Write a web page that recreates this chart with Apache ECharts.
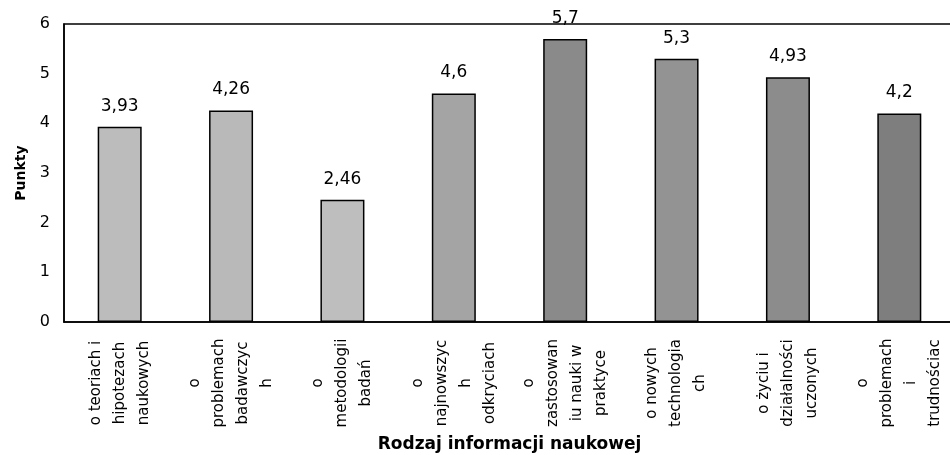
<!DOCTYPE html>
<html>
<head>
<meta charset="utf-8">
<script src="https://cdn.jsdelivr.net/npm/echarts@6/dist/echarts.min.js"></script>
<style>
  html, body { margin: 0; padding: 0; background: #ffffff; }
  #chart { width: 950px; height: 455px; }
</style>
</head>
<body>
<div id="chart"></div>
<script>
// Categories of scientific information (wrapped as printed)
const categories = [
  'o teoriach i\nhipotezach\nnaukowych',
  'o\nproblemach\nbadawczyc\nh',
  'o\nmetodologii\nbadań',
  'o\nnajnowszyc\nh\nodkryciach',
  'o\nzastosowan\niu nauki w\npraktyce',
  'o nowych\ntechnologia\nch',
  'o życiu i\ndziałalności\nuczonych',
  'o\nproblemach\ni\ntrudnościac'
];

// Mean score per category
const points = [3.93, 4.26, 2.46, 4.6, 5.7, 5.3, 4.93, 4.2];

// Y axis tick range
const yMin = 0;
const yMax = 6;
const yStep = 1;

// Bar shades, lighter on the left, darker on the right
const barShades = ['#bcbcbc', '#b9b9b9', '#bebebe', '#a4a4a4', '#8a8a8a', '#939393', '#8c8c8c', '#7e7e7e'];

const FONT = 'DejaVu Sans';

const chart = echarts.init(document.getElementById('chart'), null, { renderer: 'canvas' });

chart.setOption({
  animation: false,
  backgroundColor: '#ffffff',
  grid: {
    left: 64,
    right: -5,
    top: 24,
    bottom: 133,
    outerBoundsMode: 'none',
    containLabel: false,
    show: true,
    borderColor: '#000000',
    borderWidth: 1.5,
    backgroundColor: 'transparent'
  },
  xAxis: {
    type: 'category',
    data: categories,
    name: 'Rodzaj informacji naukowej',
    nameLocation: 'middle',
    nameGap: 114,
    nameTextStyle: { fontFamily: FONT, fontSize: 17, fontWeight: 'bold', color: '#000' },
    axisLine: { show: true, lineStyle: { color: '#000', width: 1.5 } },
    axisTick: { show: false },
    axisLabel: {
      interval: 0,
      rotate: 90,
      align: 'center',
      verticalAlign: 'middle',
      margin: 61,
      lineHeight: 24,
      fontFamily: FONT,
      fontSize: 15,
      color: '#000'
    },
    splitLine: { show: false }
  },
  yAxis: {
    type: 'value',
    min: yMin,
    max: yMax,
    interval: yStep,
    name: 'Punkty',
    nameLocation: 'middle',
    nameGap: 36,
    nameRotate: 90,
    nameTextStyle: { fontFamily: FONT, fontSize: 14, fontWeight: 'bold', color: '#000' },
    axisLine: { show: true, lineStyle: { color: '#000', width: 1.5 } },
    axisTick: { show: false },
    axisLabel: { margin: 14, fontFamily: FONT, fontSize: 16, color: '#000' },
    splitLine: { show: false }
  },
  series: [{
    type: 'bar',
    data: points.map((v, i) => ({ value: v, itemStyle: { color: barShades[i] } })),
    barWidth: '39.5%',
    itemStyle: { borderColor: '#000', borderWidth: 1.5 },
    label: {
      show: true,
      position: 'top',
      distance: 12,
      fontFamily: FONT,
      fontSize: 17,
      color: '#000',
      formatter: p => String(p.value).replace('.', ',')
    }
  }]
});
</script>
</body>
</html>
